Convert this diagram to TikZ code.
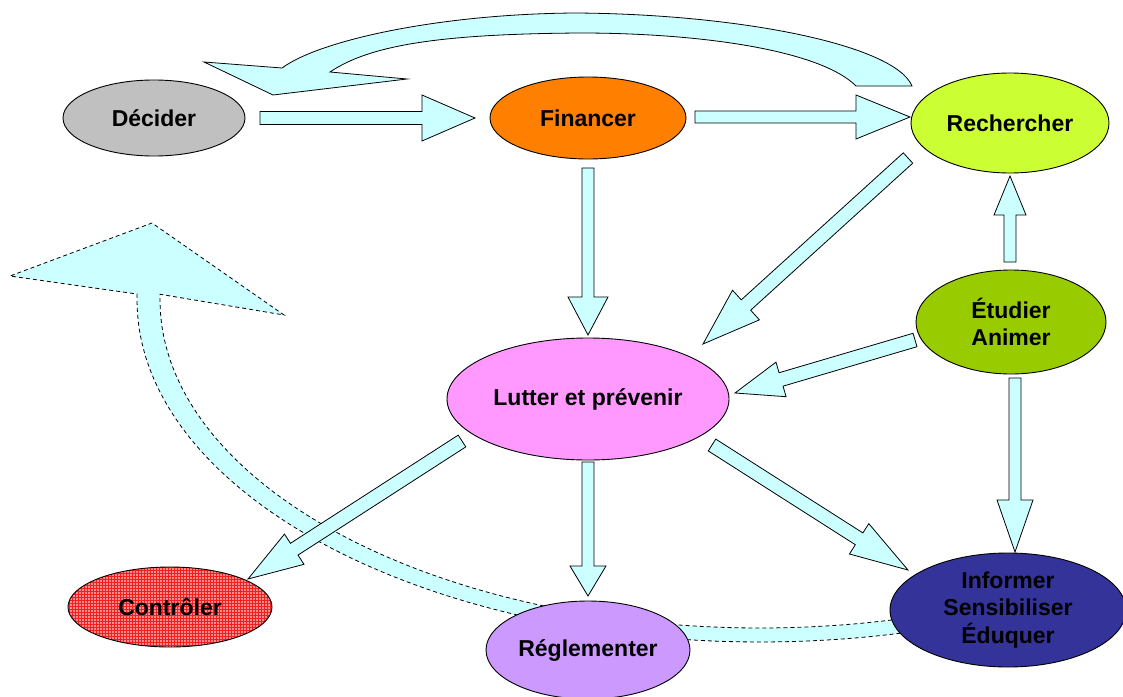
\documentclass[tikz,border=0pt]{standalone}
\usepackage{fontspec}
\setmainfont{Liberation Sans}
\usetikzlibrary{shapes.geometric,calc,patterns}
\definecolor{arrc}{HTML}{CCFFFF}
\definecolor{cdec}{HTML}{C0C0C0}
\definecolor{cfin}{HTML}{FF8000}
\definecolor{crech}{HTML}{CCFF33}
\definecolor{cetu}{HTML}{99CC00}
\definecolor{clut}{HTML}{FF99FF}
\definecolor{creg}{HTML}{CC99FF}
\definecolor{cinf}{HTML}{333399}
\definecolor{ccon}{HTML}{FF8C8C}
\definecolor{cconl}{HTML}{F02020}
\tikzset{
  bub/.style={ellipse, draw=black, line width=0.9pt, inner sep=0pt, align=center,
    font=\fontsize{23}{27.5}\selectfont\bfseries},
  barrow/.style={draw=black, fill=arrc, line width=0.8pt, line join=miter},
  darrow/.style={draw=black, fill=arrc, line width=0.8pt, dash pattern=on 4pt off 3pt},
}
\newcommand\blockarr[5]{%
  \coordinate (hb) at ($(#2)!#5!(#1)$);
  \draw[barrow] ($(#1)!#3!90:(#2)$) -- ($(hb)!#3!90:(#2)$) -- ($(hb)!#4!90:(#2)$) -- (#2)
    -- ($(hb)!#4!-90:(#2)$) -- ($(hb)!#3!-90:(#2)$) -- ($(#1)!#3!-90:(#2)$) -- cycle;}
\begin{document}
\begin{tikzpicture}[x=1pt,y=-1pt]
\useasboundingbox (0,0) rectangle (1123,696);

% dashed curved arrow (behind everything)
\draw[darrow] plot[domain=75:181, samples=90] ({760+623*cos(\x)},{300+342*sin(\x)})
  -- (10,276) -- (152,223) -- (284,315)
  -- plot[domain=181:75, samples=90] ({760+600*cos(\x)},{300+328*sin(\x)}) -- cycle;

% top curved arrow
\draw[barrow] (912,86) .. controls (895,45) and (740,14) .. (575,13)
  .. controls (440,14) and (320,40) .. (282,68)
  -- (204,62) -- (273,95) -- (407,79) -- (330,72)
  .. controls (370,45) and (440,34) .. (580,33)
  .. controls (700,33) and (820,50) .. (856,86) -- cycle;

% arrow end points
\coordinate (a1s) at (260,118);  \coordinate (a1e) at (475,118);
\coordinate (a2s) at (695,117);  \coordinate (a2e) at (910,117);
\coordinate (a3s) at (588,168);  \coordinate (a3e) at (588,335);
\coordinate (a4s) at (908,158);  \coordinate (a4e) at (703,344);
\coordinate (a5s) at (915,340);  \coordinate (a5e) at (735,393);
\coordinate (a6s) at (1010,262); \coordinate (a6e) at (1010,176);
\coordinate (a7s) at (1015,378); \coordinate (a7e) at (1015,552);
\coordinate (a8s) at (462,441);  \coordinate (a8e) at (248,579);
\coordinate (a9s) at (588,462);  \coordinate (a9e) at (588,596);
\coordinate (a10s) at (712,445); \coordinate (a10e) at (908,570);

\blockarr{a1s}{a1e}{6.5pt}{23pt}{53pt}
\blockarr{a2s}{a2e}{6pt}{22pt}{54pt}
\blockarr{a3s}{a3e}{6pt}{20pt}{38pt}
\blockarr{a4s}{a4e}{7pt}{20pt}{58pt}
\blockarr{a5s}{a5e}{7pt}{18pt}{48pt}
\blockarr{a6s}{a6e}{6pt}{16pt}{39pt}
\blockarr{a7s}{a7e}{6pt}{18pt}{52pt}
\blockarr{a8s}{a8e}{7pt}{18pt}{55pt}
\blockarr{a9s}{a9e}{6pt}{18pt}{30pt}
\blockarr{a10s}{a10e}{7pt}{18pt}{58pt}

% nodes
\node[bub, fill=cdec, minimum width=182pt, minimum height=76pt] (dec) at (154,118) {Décider};
\node[bub, fill=cfin, minimum width=196pt, minimum height=82pt] (fin) at (588,118) {Financer};
\node[bub, fill=crech, minimum width=198pt, minimum height=100pt] (rech) at (1010,123) {Rechercher};
\node[bub, fill=cetu, minimum width=190pt, minimum height=104pt] (etu) at (1011,322) {Étudier\\Animer};
\node[bub, fill=clut, minimum width=282pt, minimum height=122pt] (lut) at (588,399) {Lutter et prévenir};
\node[bub, preaction={fill=ccon}, pattern=grid, pattern color=cconl, minimum width=204pt, minimum height=80pt] (con) at (170,607) {Contrôler};
\node[bub, fill=creg, minimum width=204pt, minimum height=98pt] (reg) at (588,650) {Réglementer};
\node[bub, fill=cinf, minimum width=236pt, minimum height=114pt] (inf) at (1008,610) {Informer\\Sensibiliser\\Éduquer};
\end{tikzpicture}
\end{document}
